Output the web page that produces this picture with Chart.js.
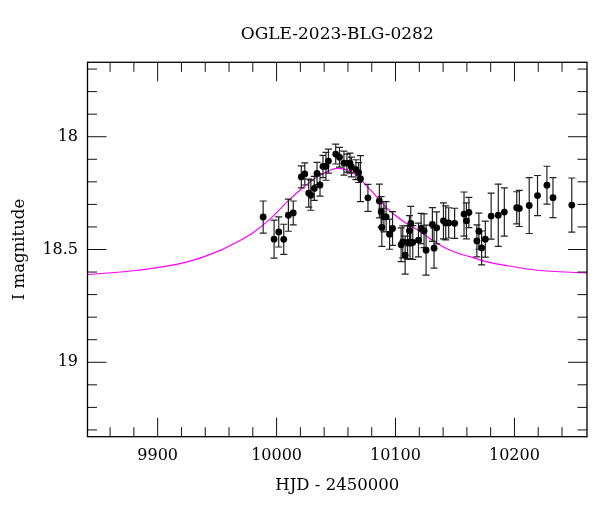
<!DOCTYPE html>
<html>
<head>
<meta charset="utf-8">
<title>OGLE-2023-BLG-0282</title>
<script src="https://cdn.jsdelivr.net/npm/chart.js@4.4.1/dist/chart.umd.min.js"></script>
<style>
  html, body { margin: 0; padding: 0; background: #fff; }
  #wrap { width: 600px; height: 512px; }
</style>
</head>
<body>
<div id="wrap"><canvas id="lightCurve"></canvas></div>
<script>
// OGLE I-band photometry (HJD - 2450000, mag, error)
const hjd = [9988.7, 9997.9, 10001.8, 10006.0, 10009.9, 10014.0, 10020.8, 10023.7, 10027.0, 10028.8,
  10031.7, 10034.0, 10036.5, 10039.0, 10041.5, 10043.6, 10049.7, 10052.9, 10056.6, 10059.1,
  10061.7, 10062.9, 10066.7, 10069.0, 10070.5, 10076.8, 10086.4, 10087.9, 10088.5, 10090.2,
  10092.1, 10095.0, 10097.5, 10104.7, 10106.1, 10108.1, 10110.1, 10111.7, 10112.2, 10112.8,
  10114.5, 10119.3, 10121.5, 10124.0, 10125.7, 10131.0, 10132.4, 10134.6, 10140.3, 10142.2,
  10144.7, 10149.7, 10157.6, 10159.6, 10161.7, 10168.4, 10170.1, 10172.4, 10175.5, 10180.4,
  10186.4, 10191.5, 10201.9, 10204.1, 10212.4, 10219.4, 10227.3, 10232.4, 10248.2]
const mag = [18.356, 18.454, 18.422, 18.455, 18.348, 18.338, 18.178, 18.165, 18.250, 18.259,
  18.229, 18.163, 18.214, 18.132, 18.131, 18.108, 18.077, 18.091, 18.117, 18.117,
  18.117, 18.134, 18.146, 18.159, 18.186, 18.271, 18.285, 18.333, 18.402, 18.355,
  18.355, 18.432, 18.407, 18.479, 18.466, 18.525, 18.469, 18.417, 18.469, 18.384,
  18.469, 18.458, 18.407, 18.417, 18.503, 18.389, 18.494, 18.404, 18.373, 18.382,
  18.382, 18.384, 18.343, 18.373, 18.336, 18.462, 18.419, 18.493, 18.454, 18.352,
  18.348, 18.334, 18.315, 18.318, 18.305, 18.261, 18.215, 18.270, 18.303]
const magErr = [0.071, 0.084, 0.067, 0.067, 0.071, 0.053, 0.049, 0.049, 0.062, 0.067,
  0.053, 0.049, 0.049, 0.049, 0.062, 0.053, 0.044, 0.044, 0.053, 0.040,
  0.044, 0.044, 0.044, 0.044, 0.102, 0.060, 0.075, 0.067, 0.084, 0.067,
  0.067, 0.067, 0.075, 0.075, 0.071, 0.084, 0.075, 0.067, 0.071, 0.075,
  0.075, 0.075, 0.067, 0.075, 0.111, 0.075, 0.089, 0.071, 0.080, 0.075,
  0.067, 0.067, 0.098, 0.080, 0.067, 0.071, 0.080, 0.075, 0.080, 0.102,
  0.138, 0.107, 0.071, 0.080, 0.124, 0.089, 0.084, 0.089, 0.120]

// model curve
const modelHjd = [9841, 9883, 9925, 9953, 9967, 9981, 9995, 10009, 10023, 10037, 10051, 10065,
  10079, 10093, 10107, 10121, 10135, 10149, 10163, 10177, 10191, 10219, 10261]
const modelMag = [18.611, 18.592, 18.555, 18.503, 18.466, 18.422, 18.362, 18.288, 18.222, 18.170, 18.140, 18.162,
  18.237, 18.318, 18.377, 18.422, 18.473, 18.510, 18.533, 18.555, 18.569, 18.592, 18.604]

const xTicks = [9900, 10000, 10100, 10200]
const xMinorTicks = [9860, 9880, 9920, 9940, 9960, 9980, 10020, 10040, 10060, 10080,
  10120, 10140, 10160, 10180, 10220, 10240]
const yTicks = [18, 18.5, 19]
const yMinorTicks = [17.7, 17.8, 17.9, 18.1, 18.2, 18.3, 18.4, 18.6, 18.7, 18.8, 18.9,
  19.1, 19.2, 19.3]

const FONT = "'DejaVu Serif', 'Liberation Serif', serif"

const errorBars = {
    id: 'errorBars',
    afterDatasetDraw(chart, args) {
        if (args.index !== 1) return  // draw after the model line, before the points
        const {ctx, scales: {x, y}} = chart
        ctx.save()
        ctx.strokeStyle = '#222'
        ctx.lineWidth = 1.2
        ctx.beginPath()
        for (let i = 0; i < hjd.length; i++) {
            const px = x.getPixelForValue(hjd[i])
            const top = y.getPixelForValue(mag[i] - magErr[i])
            const bot = y.getPixelForValue(mag[i] + magErr[i])
            ctx.moveTo(px, top); ctx.lineTo(px, bot)
            ctx.moveTo(px - 3.5, top); ctx.lineTo(px + 3.5, top)
            ctx.moveTo(px - 3.5, bot); ctx.lineTo(px + 3.5, bot)
        }
        ctx.stroke()
        ctx.restore()
    }
}

const frameTicks = {
    id: 'frameTicks',
    afterDraw(chart) {
        const {ctx, chartArea: a, scales: {x, y}} = chart
        ctx.save()
        ctx.strokeStyle = '#111'
        ctx.lineWidth = 1
        const xMarks = (vals, len) => {
            for (const v of vals) {
                const px = x.getPixelForValue(v)
                ctx.moveTo(px, a.bottom); ctx.lineTo(px, a.bottom - len)
                ctx.moveTo(px, a.top); ctx.lineTo(px, a.top + len)
            }
        }
        const yMarks = (vals, len) => {
            for (const v of vals) {
                const py = y.getPixelForValue(v)
                ctx.moveTo(a.left, py); ctx.lineTo(a.left + len, py)
                ctx.moveTo(a.right, py); ctx.lineTo(a.right - len, py)
            }
        }
        ctx.beginPath()
        xMarks(xTicks, 19)
        xMarks(xMinorTicks, 9.5)
        yMarks(yTicks, 19)
        yMarks(yMinorTicks, 9.5)
        ctx.stroke()
        ctx.lineWidth = 1.3
        ctx.strokeStyle = '#000'
        ctx.strokeRect(a.left, a.top, a.right - a.left, a.bottom - a.top)
        ctx.restore()
    }
}

const ctx = document.getElementById('lightCurve').getContext('2d')

new Chart(ctx, {
    type: 'scatter',
    data: {
        datasets: [{
            label: 'OGLE',
            data: hjd.map((t, i) => ({x: t, y: mag[i]})),
            backgroundColor: '#000',
            borderWidth: 0,
            pointRadius: 3.4,
            pointHoverRadius: 3.4,
        }, {
            label: 'model',
            type: 'line',
            data: modelHjd.map((t, i) => ({x: t, y: modelMag[i]})),
            borderColor: '#ff00ff',
            borderWidth: 1.2,
            pointRadius: 0,
            fill: false,
            cubicInterpolationMode: 'monotone',
        }]
    },
    options: {
        responsive: true,
        maintainAspectRatio: false,
        animation: false,
        layout: { padding: { right: 13 } },
        plugins: {
            legend: { display: false },
            tooltip: { enabled: false },
            title: {
                display: true,
                fullSize: false,
                text: 'OGLE-2023-BLG-0282',
                color: '#000',
                font: { family: FONT, size: 17, weight: 'normal' },
                padding: { top: 24.5, bottom: 17.4 },
            }
        },
        scales: {
            x: {
                type: 'linear',
                min: 9841,
                max: 10261,
                grid: { display: false, drawTicks: false },
                border: { display: false },
                afterBuildTicks: s => { s.ticks = xTicks.map(v => ({value: v})) },
                afterFit: s => { s.height = 75.3 },
                ticks: {
                    color: '#000',
                    font: { family: FONT, size: 16 },
                    padding: 10,
                    maxRotation: 0,
                    callback: v => String(v),
                },
                title: {
                    display: true,
                    text: 'HJD - 2450000',
                    color: '#000',
                    font: { family: FONT, size: 16.5 },
                    padding: { top: 0, bottom: 16 },
                }
            },
            y: {
                type: 'linear',
                reverse: true,
                min: 17.67,
                max: 19.33,
                grid: { display: false, drawTicks: false },
                border: { display: false },
                afterBuildTicks: s => { s.ticks = yTicks.map(v => ({value: v})) },
                afterFit: s => { s.width = 87.5 },
                ticks: {
                    color: '#000',
                    font: { family: FONT, size: 16 },
                    padding: 9.5,
                    callback: v => String(v),
                },
                title: {
                    display: true,
                    text: 'I magnitude',
                    color: '#000',
                    font: { family: FONT, size: 16.5 },
                    padding: { top: 10, bottom: 0 },
                }
            }
        }
    },
    plugins: [errorBars, frameTicks]
})
</script>
</body>
</html>
